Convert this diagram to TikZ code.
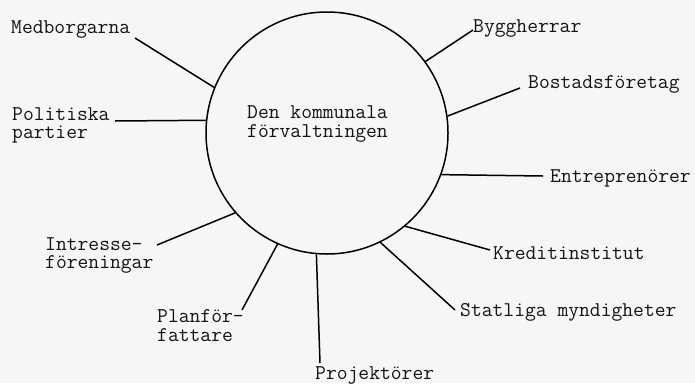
\documentclass[tikz,border=0pt]{standalone}
\definecolor{paper}{RGB}{246,246,244}
\definecolor{ink}{RGB}{20,20,20}
\begin{document}
\begin{tikzpicture}[x=1pt,y=-1pt,
  lbl/.style={inner sep=0pt,anchor=base west,text=ink,font=\ttfamily\fontsize{21}{18}\selectfont},
  ring/.style={draw=black,circle,line width=1.5pt,minimum size=242pt,inner sep=0pt},
  link/.style={draw=black,line width=1.5pt}]
\fill[paper] (0,0) rectangle (695,383);
\useasboundingbox (0,0) rectangle (695,383);
\node[ring] (c) at (327,133) {};
\node[lbl] (ct1) at (247,118) {Den kommunala};
\node[lbl] (ct2) at (247,137) {förvaltningen};
\node[lbl] (med) at (11,33) {Medborgarna};
\node[lbl] (pol1) at (12,120) {Politiska};
\node[lbl] (pol2) at (12,138) {partier};
\node[lbl] (byg) at (473,32) {Byggherrar};
\node[lbl] (bos) at (528,88) {Bostadsföretag};
\node[lbl] (ent) at (550,182) {Entreprenörer};
\node[lbl] (kre) at (493,259) {Kreditinstitut};
\node[lbl] (sta) at (460,316) {Statliga myndigheter};
\node[lbl] (pro) at (315,379) {Projektörer};
\node[lbl] (int1) at (45,250) {Intresse-};
\node[lbl] (int2) at (45,268) {föreningar};
\node[lbl] (pla1) at (157,322) {Planför-};
\node[lbl] (pla2) at (157,341) {fattare};
\coordinate (eMed) at (135,38);
\coordinate (ePol) at (115,121);
\coordinate (eByg) at (473,30);
\coordinate (eBos) at (520,88);
\coordinate (eEnt) at (543,176);
\coordinate (eKre) at (490,250);
\coordinate (eSta) at (455,310);
\coordinate (ePro) at (320,363);
\coordinate (ePla) at (242,310);
\coordinate (eInt) at (157,245);
\draw[link] (c.158.5) -- (eMed);
\draw[link] (c.174.4) -- (ePol);
\draw[link] (c.36.3) -- (eByg);
\draw[link] (c.8.5) -- (eBos);
\draw[link] (c.-20.8) -- (eEnt);
\draw[link] (c.-50.3) -- (eKre);
\draw[link] (c.-64.3) -- (eSta);
\draw[link] (c.-95.6) -- (ePro);
\draw[link] (c.-114.9) -- (ePla);
\draw[link] (c.-139.6) -- (eInt);
\end{tikzpicture}
\end{document}
